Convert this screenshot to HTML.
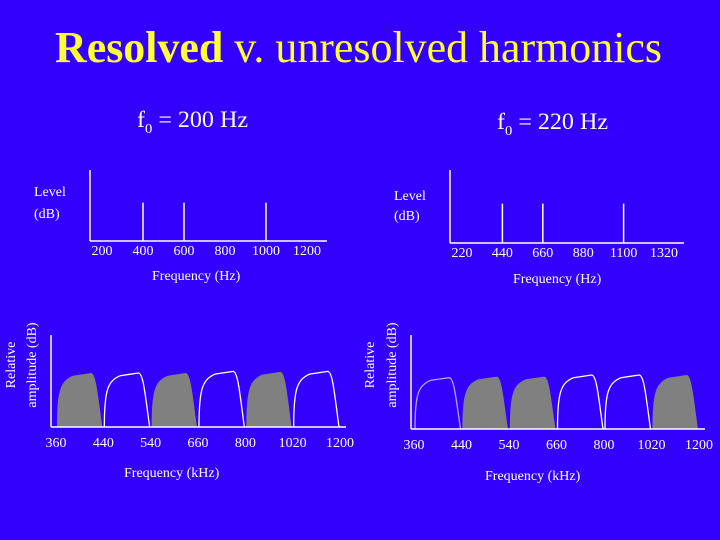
<!DOCTYPE html>
<html><head><meta charset="utf-8"><style>
html,body{margin:0;padding:0;background:#3300ff;}
svg{display:block;font-family:"Liberation Serif",serif;}
</style></head><body>
<svg id="s" width="720" height="540" viewBox="0 0 720 540">
<rect width="720" height="540" fill="#3300ff"/>
<text x="55" y="62" font-size="44" fill="#ffff33" textLength="607" lengthAdjust="spacingAndGlyphs"><tspan font-weight="bold">Resolved</tspan> v. unresolved harmonics</text>
<text x="137" y="127" font-size="23" fill="#fff" textLength="111" lengthAdjust="spacingAndGlyphs">f<tspan font-size="14" dy="6">0</tspan><tspan dy="-6"> = 200 Hz</tspan></text>
<text x="497" y="129" font-size="23" fill="#fff" textLength="111" lengthAdjust="spacingAndGlyphs">f<tspan font-size="14" dy="6">0</tspan><tspan dy="-6"> = 220 Hz</tspan></text>
<g id="charts"></g>
</svg>
<script>
// Top spectra data
const harmLeftTicks = [200,400,600,800,1000,1200];
const harmLeftLines = [400,600,1000];
const harmRightTicks = [220,440,660,880,1100,1320];
const harmRightLines = [440,660,1100];
const lineLevel = 0.54;
// Bottom filter bank data
const bandEdgeLabels = ["360","440","540","660","800","1020","1200"];
const bandLevelsLeft = [1,1,1,1.03,1.02,1.03];
const resolvedLeft = [1,0,1,0,1,0];
const bandLevelsRight = [0.95,0.97,0.97,1,1,1];
const resolvedRight = [0,1,1,0,0,1];

const NS="http://www.w3.org/2000/svg";
const root=document.getElementById('charts');
function mk(tag,attrs,parent){const e=document.createElementNS(NS,tag);for(const k in attrs)e.setAttribute(k,attrs[k]);(parent||root).appendChild(e);return e;}
function txt(x,y,s,size,anchor){const t=mk('text',{x:x,y:y,'font-size':size,fill:'#fff','text-anchor':anchor||'start'});t.textContent=s;return t;}

function spectrum(ox,base,top,x0,x1,ticks,lines,name){
  const g=mk('g',{});
  
  
  const lo=ticks[0],hi=ticks[ticks.length-1];
  const sx=f=>x0+(f-lo)/(hi-lo)*(x1-x0);
  const ya=mk('line',{x1:ox,y1:top,x2:ox,y2:base,stroke:'#fff','stroke-width':1.5},g);
  
  
  const xa=mk('line',{x1:ox,y1:base,x2:ox+(x1-x0)+32,y2:base,stroke:'#fff','stroke-width':1.5},g);
  
  
  lines.forEach(f=>{
    const l=mk('line',{x1:sx(f),y1:base,x2:sx(f),y2:base-(base-top)*lineLevel,stroke:'#fff','stroke-width':1.5},g);
    
    
  });
  ticks.forEach((t)=>{
    const e=txt(sx(t),base+14,String(t),14,'middle');
    g.appendChild(e);
    
    
  });
}
spectrum(90,241,170,102,307,harmLeftTicks,harmLeftLines,'spectrum-200hz');
spectrum(450,243,170,462,664,harmRightTicks,harmRightLines,'spectrum-220hz');
[[34,196,'Level'],[34,218,'(dB)'],[394,200,'Level'],[394,220,'(dB)']].forEach(a=>{
  const t=txt(a[0],a[1],a[2],14);
  
  
});
[[152,280],[513,283]].forEach(a=>{
  const t=txt(a[0],a[1],'Frequency (Hz)',14);
  
  
});

function bank(ox,base,top,x0,x1,levels,resolved,name){
  const g=mk('g',{});
  
  
  const n=levels.length, w=(x1-x0)/n, H=54;
  const bx=i=>x0+i*w;
  const ya=mk('line',{x1:ox,y1:top,x2:ox,y2:base,stroke:'#fff','stroke-width':1.5},g);
  
  
  levels.forEach((lv,i)=>{
    const a=bx(i)+1,b=bx(i+1)-1,ww=b-a,h=H*lv;
    const d=`M${a},${base} C${a},${base-0.7*h} ${a+0.08*ww},${base-0.85*h} ${a+0.35*ww},${base-0.95*h} L${a+0.75*ww},${base-h} C${a+0.86*ww},${base-h} ${a+0.9*ww},${base-0.6*h} ${b},${base}`;
    const p=mk('path',resolved[i]?{d:d+'Z',fill:'#808080',stroke:'none'}:{d:d,fill:'none',stroke:(name==='filters-220hz'&&i===0)?'#b0a0ff':'#fff','stroke-width':1.3},g);
    
    
  });
  const xa=mk('line',{x1:ox,y1:base,x2:x1+6,y2:base,stroke:'#fff','stroke-width':1.5},g);
  
  
  bandEdgeLabels.forEach((s,i)=>{
    const t=txt(bx(i),base+20,s,14,'middle');
    g.appendChild(t);
    
    
  });
}
bank(51,427,335,56,340,bandLevelsLeft,resolvedLeft,'filters-200hz');
bank(411,429,335,414,699,bandLevelsRight,resolvedRight,'filters-220hz');
[[124,477],[485,480]].forEach(a=>{
  const t=txt(a[0],a[1],'Frequency (kHz)',14);
  
  
});
[[15,36,365],[374,396,365]].forEach(a=>{
  const g=mk('g',{transform:`rotate(-90 ${a[0]} ${a[2]})`});
  
  
  const t1=txt(a[0],a[2],'Relative',14,'middle');g.appendChild(t1);
  const t2=txt(a[0],a[2]+(a[1]-a[0]),'amplitude (dB)',14,'middle');g.appendChild(t2);
  
  
  
  
});
</script>
</body></html>
